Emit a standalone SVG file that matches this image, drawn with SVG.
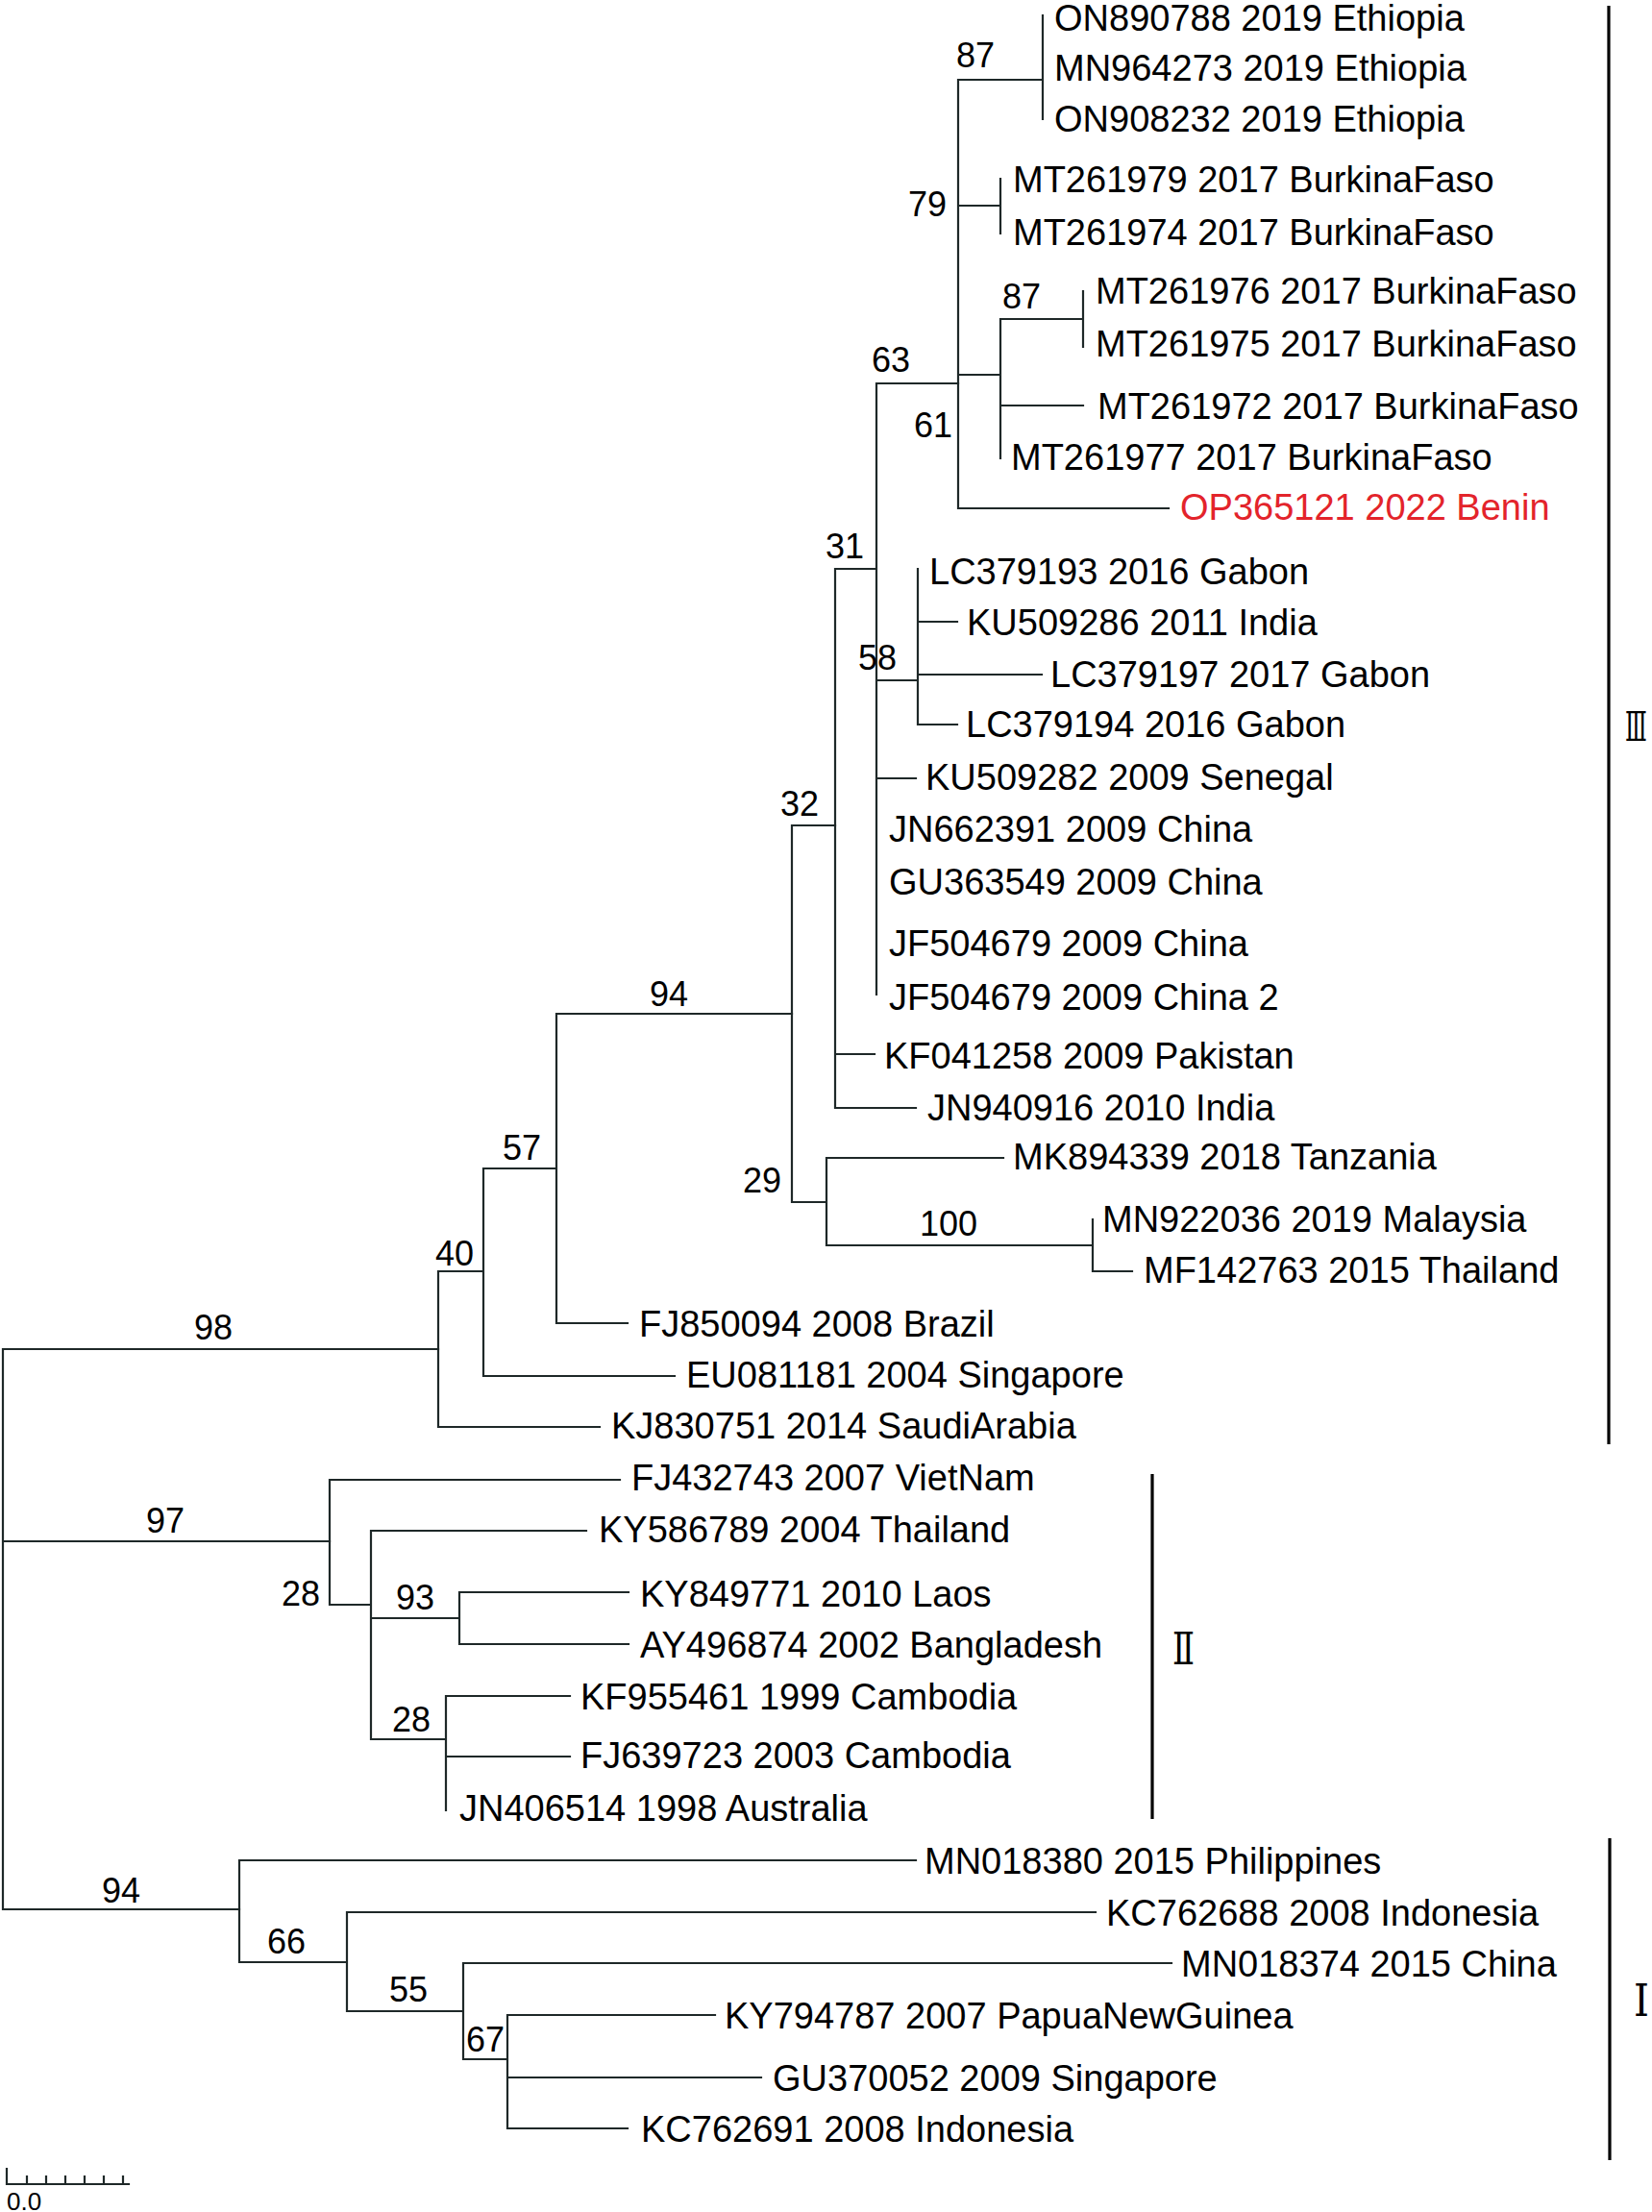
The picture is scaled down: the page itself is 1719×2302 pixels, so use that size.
<svg xmlns="http://www.w3.org/2000/svg" width="1719" height="2302" viewBox="0 0 1719 2302">
<style>
.t{font-family:"Liberation Sans",Arial,sans-serif;font-size:38px;fill:#000}
.b{font-family:"Liberation Sans",Arial,sans-serif;font-size:36px;fill:#000}
.red{fill:#e3242b}
.ln{fill:none;stroke:#1e2828;stroke-width:2.2;stroke-linecap:square}
.bar{fill:none;stroke:#000;stroke-width:3.2}
.rn{font-family:"DejaVu Serif","Liberation Serif","Noto Sans CJK SC",serif;fill:#000}
.sc{font-family:"Liberation Sans",Arial,sans-serif;font-size:26px;fill:#000}
</style>
<rect width="1719" height="2302" fill="#fff"/>
<g id="connectors">
<path class="ln" d="M3 1404V1987M3 1404H456M3 1604H343M3 1987H249"/>
<path class="ln" d="M456 1323V1485M456 1323H503M456 1485H624M503 1216V1432M503 1216H579M503 1432H702M579 1055V1377M579 1055H824M579 1377H653"/>
<path class="ln" d="M824 859V1251M824 859H869M824 1251H860M860 1205V1296M860 1205H1044M860 1296H1137M1137 1269V1323M1137 1323H1178"/>
<path class="ln" d="M869 592V1152M869 592H912M869 1097H910M869 1153H953M912 399V1035M912 399H997M912 708H955M912 810H953M955 592V754M955 647H996M955 702H1084M955 754H996"/>
<path class="ln" d="M997 83V529M997 83H1085M1085 16V124M997 214H1041M1041 186V243M997 390H1041M1041 332V477M1041 332H1127M1127 303V361M1041 422H1127M997 529H1216"/>
<path class="ln" d="M343 1540V1670M343 1540H645M343 1670H386M386 1593V1810M386 1593H610M386 1684H478M478 1657V1711M478 1657H654M478 1711H654M386 1810H464M464 1765V1884M464 1765H593M464 1828H593"/>
<path class="ln" d="M249 1936V2042M249 1936H953M249 2042H361M361 1990V2093M361 1990H1140M361 2093H482M482 2043V2143M482 2043H1219M482 2143H528M528 2097V2215M528 2097H744M528 2162H792M528 2215H653"/>
</g>
<g id="tips">
<g id="tip-ON890788"><text class="t" x="1097" y="32">ON890788 2019 Ethiopia</text></g>
<g id="tip-MN964273"><text class="t" x="1097" y="84">MN964273 2019 Ethiopia</text></g>
<g id="tip-ON908232"><text class="t" x="1097" y="137">ON908232 2019 Ethiopia</text></g>
<g id="tip-MT261979"><text class="t" x="1054" y="200">MT261979 2017 BurkinaFaso</text></g>
<g id="tip-MT261974"><text class="t" x="1054" y="255">MT261974 2017 BurkinaFaso</text></g>
<g id="tip-MT261976"><text class="t" x="1140" y="316">MT261976 2017 BurkinaFaso</text></g>
<g id="tip-MT261975"><text class="t" x="1140" y="371">MT261975 2017 BurkinaFaso</text></g>
<g id="tip-MT261972"><text class="t" x="1142" y="436">MT261972 2017 BurkinaFaso</text></g>
<g id="tip-MT261977"><text class="t" x="1052" y="489">MT261977 2017 BurkinaFaso</text></g>
<g id="tip-OP365121"><text class="t red" x="1228" y="541">OP365121 2022 Benin</text></g>
<g id="tip-LC379193"><text class="t" x="967" y="608">LC379193 2016 Gabon</text></g>
<g id="tip-KU509286"><text class="t" x="1006" y="661">KU509286 2011 India</text></g>
<g id="tip-LC379197"><text class="t" x="1093" y="715">LC379197 2017 Gabon</text></g>
<g id="tip-LC379194"><text class="t" x="1005" y="767">LC379194 2016 Gabon</text></g>
<g id="tip-KU509282"><text class="t" x="963" y="822">KU509282 2009 Senegal</text></g>
<g id="tip-JN662391"><text class="t" x="925" y="876">JN662391 2009 China</text></g>
<g id="tip-GU363549"><text class="t" x="925" y="931">GU363549 2009 China</text></g>
<g id="tip-JF504679"><text class="t" x="925" y="995">JF504679 2009 China</text></g>
<g id="tip-JF504679-2"><text class="t" x="925" y="1051">JF504679 2009 China 2</text></g>
<g id="tip-KF041258"><text class="t" x="920" y="1112">KF041258 2009 Pakistan</text></g>
<g id="tip-JN940916"><text class="t" x="965" y="1166">JN940916 2010 India</text></g>
<g id="tip-MK894339"><text class="t" x="1054" y="1217">MK894339 2018 Tanzania</text></g>
<g id="tip-MN922036"><text class="t" x="1147" y="1282">MN922036 2019 Malaysia</text></g>
<g id="tip-MF142763"><text class="t" x="1190" y="1335">MF142763 2015 Thailand</text></g>
<g id="tip-FJ850094"><text class="t" x="665" y="1391">FJ850094 2008 Brazil</text></g>
<g id="tip-EU081181"><text class="t" x="714" y="1444">EU081181 2004 Singapore</text></g>
<g id="tip-KJ830751"><text class="t" x="636" y="1497">KJ830751 2014 SaudiArabia</text></g>
<g id="tip-FJ432743"><text class="t" x="657" y="1551">FJ432743 2007 VietNam</text></g>
<g id="tip-KY586789"><text class="t" x="623" y="1605">KY586789 2004 Thailand</text></g>
<g id="tip-KY849771"><text class="t" x="666" y="1672">KY849771 2010 Laos</text></g>
<g id="tip-AY496874"><text class="t" x="666" y="1725">AY496874 2002 Bangladesh</text></g>
<g id="tip-KF955461"><text class="t" x="604" y="1779">KF955461 1999 Cambodia</text></g>
<g id="tip-FJ639723"><text class="t" x="604" y="1840">FJ639723 2003 Cambodia</text></g>
<g id="tip-JN406514"><text class="t" x="478" y="1895">JN406514 1998 Australia</text></g>
<g id="tip-MN018380"><text class="t" x="962" y="1950">MN018380 2015 Philippines</text></g>
<g id="tip-KC762688"><text class="t" x="1151" y="2004">KC762688 2008 Indonesia</text></g>
<g id="tip-MN018374"><text class="t" x="1229" y="2057">MN018374 2015 China</text></g>
<g id="tip-KY794787"><text class="t" x="754" y="2111">KY794787 2007 PapuaNewGuinea</text></g>
<g id="tip-GU370052"><text class="t" x="804" y="2176">GU370052 2009 Singapore</text></g>
<g id="tip-KC762691"><text class="t" x="667" y="2229">KC762691 2008 Indonesia</text></g>
</g>
<g id="support">
<g id="n87a"><text class="b" x="995" y="70">87</text></g>
<g id="n79"><text class="b" x="945" y="225">79</text></g>
<g id="n87b"><text class="b" x="1043" y="321">87</text></g>
<g id="n63"><text class="b" x="907" y="387">63</text></g>
<g id="n61"><text class="b" x="951" y="455">61</text></g>
<g id="n31"><text class="b" x="859" y="581">31</text></g>
<g id="n58"><text class="b" x="893" y="697">58</text></g>
<g id="n32"><text class="b" x="812" y="849">32</text></g>
<g id="n94a"><text class="b" x="676" y="1047">94</text></g>
<g id="n57"><text class="b" x="523" y="1207">57</text></g>
<g id="n29"><text class="b" x="773" y="1241">29</text></g>
<g id="n100"><text class="b" x="957" y="1286">100</text></g>
<g id="n40"><text class="b" x="453" y="1317">40</text></g>
<g id="n98"><text class="b" x="202" y="1394">98</text></g>
<g id="n97"><text class="b" x="152" y="1595">97</text></g>
<g id="n28a"><text class="b" x="293" y="1671">28</text></g>
<g id="n93"><text class="b" x="412" y="1675">93</text></g>
<g id="n28b"><text class="b" x="408" y="1802">28</text></g>
<g id="n94b"><text class="b" x="106" y="1980">94</text></g>
<g id="n66"><text class="b" x="278" y="2033">66</text></g>
<g id="n55"><text class="b" x="405" y="2083">55</text></g>
<g id="n67"><text class="b" x="485" y="2135">67</text></g>
</g>
<g id="clade-III"><path class="bar" d="M1674 6V1503"/><text class="rn" transform="translate(1691 771) scale(0.55 1)" x="0" y="0" font-size="43">Ⅲ</text></g>
<g id="clade-II"><path class="bar" d="M1199 1534V1893"/><text class="rn" x="1220" y="1732" font-size="47" textLength="23" lengthAdjust="spacingAndGlyphs">Ⅱ</text></g>
<g id="clade-I"><path class="bar" d="M1675 1913V2248"/><text class="rn" x="1700" y="2098" font-size="47" textLength="16" lengthAdjust="spacingAndGlyphs">I</text></g>
<g id="scale-bar">
<path class="ln" d="M7 2273H134M7 2257V2273M28 2265V2273M48 2265V2273M68 2265V2273M88 2265V2273M108 2265V2273M128 2265V2273" stroke-linecap="butt"/>
<text class="sc" x="7" y="2300">0.0</text>
</g>
</svg>
